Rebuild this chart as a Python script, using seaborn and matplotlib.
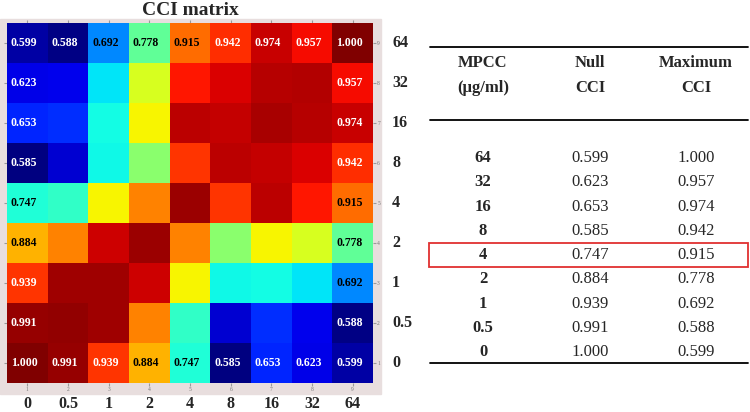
import numpy as np
import matplotlib
matplotlib.use('Agg')
import matplotlib.pyplot as plt
import seaborn as sns
from matplotlib.patches import Rectangle

# concentrations of the second drug (columns) and MPCC (rows, top to bottom)
conc = ['0', '0.5', '1', '2', '4', '8', '16', '32', '64']
mpcc = ['64', '32', '16', '8', '4', '2', '1', '0.5', '0']

# CCI values (interior cells estimated from colour)
row_64 = [0.599, 0.588, 0.692, 0.778, 0.915, 0.942, 0.974, 0.957, 1.000]
row_32 = [0.623, 0.625, 0.730, 0.838, 0.952, 0.967, 0.980, 0.982, 0.957]
row_16 = [0.653, 0.655, 0.740, 0.855, 0.978, 0.975, 0.985, 0.980, 0.974]
row_8 = [0.585, 0.615, 0.738, 0.800, 0.940, 0.978, 0.975, 0.967, 0.942]
row_4 = [0.747, 0.755, 0.855, 0.905, 0.990, 0.940, 0.978, 0.952, 0.915]
row_2 = [0.884, 0.905, 0.972, 0.990, 0.905, 0.800, 0.855, 0.838, 0.778]
row_1 = [0.939, 0.988, 0.988, 0.972, 0.855, 0.738, 0.740, 0.730, 0.692]
row_05 = [0.991, 0.993, 0.988, 0.905, 0.755, 0.615, 0.655, 0.625, 0.588]
row_0 = [1.000, 0.991, 0.939, 0.884, 0.747, 0.585, 0.653, 0.623, 0.599]

cci = np.array([row_64, row_32, row_16, row_8, row_4, row_2, row_1, row_05, row_0])
n = len(conc)

# only the border cells carry a number
labels = np.full(cci.shape, '', dtype=object)
for i in range(n):
    for j in range(n):
        if i in (0, n - 1) or j in (0, n - 1):
            labels[i, j] = f'{cci[i, j]:.3f}'

sns.set_style('white')
plt.rcParams['font.family'] = ['Liberation Serif', 'DejaVu Serif']

fig = plt.figure(figsize=(7.5, 4.12), dpi=100)

# pinkish-grey frame behind the matrix (MATLAB figure look)
fig.patches.append(Rectangle((0, 18 / 412), 381 / 750, 375 / 412,
                             transform=fig.transFigure, color='#e8dede', zorder=-5))

ax = fig.add_axes([7 / 750, 29 / 412, 366 / 750, 360 / 412])
ax.set_zorder(2)
sns.heatmap(cci, cmap='jet', vmin=cci.min(), vmax=cci.max(), cbar=False,
            annot=labels, fmt='', ax=ax,
            annot_kws=dict(fontsize=8.5, fontweight='bold'),
            xticklabels=list(range(1, n + 1)), yticklabels=list(range(n, 0, -1)))

for t in ax.texts:
    s = t.get_text()
    if s:
        v = float(s)
        t.set_color('black' if 0.68 < v < 0.93 else 'white')
        x, y = t.get_position()
        t.set_position((x - 0.08, y))

ax.tick_params(axis='both', length=2, color='#999999', labelsize=4, labelcolor='#777777',
               top=True, right=True, left=True, bottom=True, labelright=True,
               labelleft=False, direction='out', pad=1)
ax.set_yticklabels(ax.get_yticklabels(), rotation=0)
for sp in ax.spines.values():
    sp.set_visible(False)

ax.set_title('CCI matrix', fontsize=14, fontweight='bold', pad=6)

# big concentration labels outside the frame
for j, c in enumerate(conc):
    ax.text(j + 0.5, n + 0.52, c, ha='center', va='center', fontsize=11.5, fontweight='bold')
for i, m in enumerate(mpcc):
    ax.text(n + 0.47, i + 0.5, m, ha='left', va='center', fontsize=11.5, fontweight='bold')

# summary table on the right, in pixel coordinates
tab = fig.add_axes([0, 0, 1, 1])
tab.set_zorder(1)
tab.set_xlim(0, 750)
tab.set_ylim(412, 0)
tab.set_axis_off()

x0, x1 = 430, 748
col_x = [483, 590, 696]
tab.plot([x0, x1], [47, 47], color='black', lw=1.3)
tab.plot([x0, x1], [120, 120], color='black', lw=1.3)
tab.plot([x0, x1], [363, 363], color='black', lw=1.3)

headers = [('MPCC', '(μg/ml)'), ('Null', 'CCI'), ('Maximum', 'CCI')]
for x, (h1, h2) in zip(col_x, headers):
    tab.text(x, 63, h1, ha='center', va='center', fontsize=12, fontweight='bold')
    tab.text(x, 88, h2, ha='center', va='center', fontsize=12, fontweight='bold')

null_cci = cci[:, 0]
max_cci = cci[:, -1]
row_h = 24.25
for i, m in enumerate(mpcc):
    y = 158 + i * row_h
    tab.text(col_x[0], y, m, ha='center', va='center', fontsize=12, fontweight='bold')
    tab.text(col_x[1], y, f'{null_cci[i]:.3f}', ha='center', va='center', fontsize=12)
    tab.text(col_x[2], y, f'{max_cci[i]:.3f}', ha='center', va='center', fontsize=12)

hi = mpcc.index('4')
tab.add_patch(Rectangle((x0 - 1, 158 + hi * row_h - 12), x1 - x0 + 1, 24,
                        fill=False, edgecolor='#e03030', lw=1.3))

fig.savefig('out.png', dpi=100)
